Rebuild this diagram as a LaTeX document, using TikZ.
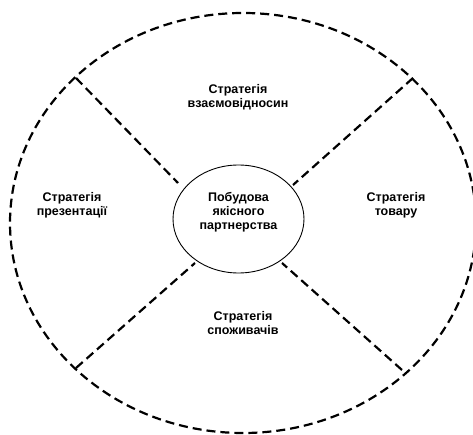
\documentclass[tikz,border=0pt]{standalone}
\usepackage{fontspec}
\setmainfont{Liberation Sans}
\usetikzlibrary{shapes.geometric}
\tikzset{
  part/.style={dash pattern=on 9pt off 5pt, line width=2.2pt, line cap=butt},
  lbl/.style={align=center, font=\fontsize{12.5}{14}\selectfont\bfseries, inner sep=0pt},
  core/.style={ellipse, draw, line width=0.9pt, minimum width=131pt, minimum height=108pt, inner sep=0pt}
}
\begin{document}
\begin{tikzpicture}[x=1pt,y=-1pt]
\useasboundingbox (0,0) rectangle (473,435);
\draw[part] (243,223) ellipse [x radius=233pt, y radius=210pt];
\node[core] (c) at (238.5,219) {};
\node[lbl] (t) at (238.5,212) {Побудова\\якісного\\партнерства};
\coordinate (ul) at (76,78);
\coordinate (ur) at (413,78);
\coordinate (ll) at (76,368);
\coordinate (lr) at (402,370);
\coordinate (iul) at (178,183);
\coordinate (iur) at (293,185);
\coordinate (ill) at (195,263);
\coordinate (ilr) at (282,263);
\draw[part] (ul) -- (iul);
\draw[part] (ur) -- (iur);
\draw[part] (ll) -- (ill);
\draw[part] (lr) -- (ilr);
\node[lbl] (s1) at (238,97) {Стратегія\\взаємовідносин};
\node[lbl] (s2) at (72,205) {Стратегія\\презентації};
\node[lbl] (s3) at (396,205) {Стратегія\\товару};
\node[lbl] (s4) at (243,323) {Стратегія\\споживачів};
\end{tikzpicture}
\end{document}
